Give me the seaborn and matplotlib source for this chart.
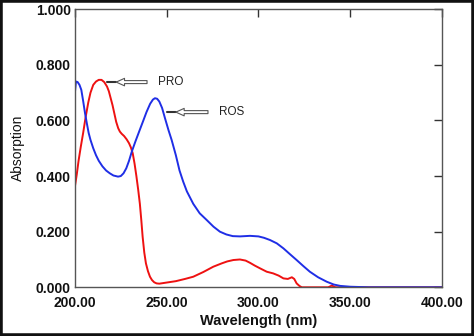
import matplotlib
matplotlib.use("Agg")
import matplotlib.pyplot as plt
import seaborn as sns
import pandas as pd
from matplotlib.patches import Rectangle

# UV absorption spectra, wavelength in nm
ros_wavelength = [200, 200.6, 201.5, 202.5, 203.5, 204.5, 205.5, 206.5, 207.5, 208.5, 210, 211.5,
                  213, 215, 217, 219, 221, 223.5, 225, 226.5, 228, 229.5, 231, 233, 235, 237.3,
                  239, 241, 242.5, 243.6, 244.8, 246, 247.5, 249, 251, 252.7, 255, 257, 259,
                  261, 264.5, 268, 271.8, 275.5, 279, 282.5, 286, 290, 295.4, 300, 303,
                  306.3, 310, 313.6, 317, 320.8, 324.5, 328, 332.5, 337.2, 341, 344.5, 350,
                  360, 380, 400]
ros_absorption = [0.700, 0.740, 0.738, 0.728, 0.710, 0.670, 0.627, 0.590, 0.555, 0.530, 0.500,
                  0.475, 0.455, 0.435, 0.420, 0.410, 0.402, 0.398, 0.400, 0.410, 0.428, 0.455,
                  0.488, 0.525, 0.560, 0.600, 0.630, 0.660, 0.675, 0.680, 0.678, 0.668, 0.645,
                  0.610, 0.565, 0.530, 0.475, 0.420, 0.380, 0.345, 0.300, 0.266, 0.242, 0.218,
                  0.200, 0.190, 0.184, 0.183, 0.185, 0.183, 0.178, 0.170, 0.158, 0.140, 0.120,
                  0.098, 0.076, 0.056, 0.036, 0.020, 0.010, 0.005, 0.002, 0.000, 0.000, 0.000]

pro_wavelength = [200, 201, 202, 203.2, 204.5, 205.8, 207.3, 208.5, 210, 211.5, 213, 214.5,
                  216, 217.5, 218.5, 219.5, 220.5, 221.5, 222.5, 223.6, 224.5, 225.5, 226.8,
                  228.2, 229.5, 230.5, 231.5, 232.5, 233.5, 234.5, 235.4, 236.2, 236.9, 237.8,
                  238.7, 239.8, 240.9, 242, 243.2, 244.5, 246, 248, 250, 255, 260, 264.5, 270,
                  275.4, 280, 283, 286.3, 289.9, 293, 295.4, 298, 300.9, 304.5, 308, 311,
                  313.6, 316, 318.2, 319.5, 320.8, 322.3, 323.6, 330, 338, 340, 342, 350, 400]
pro_absorption = [0.362, 0.405, 0.455, 0.505, 0.555, 0.610, 0.665, 0.700, 0.728, 0.740, 0.746,
                  0.746, 0.738, 0.722, 0.705, 0.680, 0.655, 0.625, 0.595, 0.572, 0.560, 0.552,
                  0.544, 0.532, 0.518, 0.503, 0.482, 0.445, 0.400, 0.350, 0.300, 0.240, 0.182,
                  0.125, 0.086, 0.058, 0.038, 0.026, 0.018, 0.014, 0.013, 0.015, 0.017, 0.022,
                  0.030, 0.038, 0.055, 0.074, 0.086, 0.093, 0.098, 0.100, 0.096, 0.088, 0.078,
                  0.068, 0.056, 0.050, 0.042, 0.032, 0.030, 0.036, 0.030, 0.014, 0.005, 0.000,
                  0.000, 0.000, 0.006, 0.000, 0.000, 0.000]

x_ticks = [200, 250, 300, 350, 400]
x_tick_labels = ["200.00", "250.00", "300.00", "350.00", "400.00"]
y_ticks = [0.0, 0.2, 0.4, 0.6, 0.8, 1.0]
y_tick_labels = ["0.000", "0.200", "0.400", "0.600", "0.800", "1.000"]

sns.set_theme(style="white")
plt.rcParams["font.family"] = ["Liberation Sans", "DejaVu Sans"]

fig = plt.figure(figsize=(4.74, 3.36), dpi=100)
ax = fig.add_axes([0.158, 0.145, 0.7745, 0.8275])

ros = pd.DataFrame({"wavelength": ros_wavelength, "absorption": ros_absorption})
pro = pd.DataFrame({"wavelength": pro_wavelength, "absorption": pro_absorption})

sns.lineplot(data=pro, x="wavelength", y="absorption", ax=ax, color="#ee1111",
             linewidth=1.4, sort=False)
sns.lineplot(data=ros, x="wavelength", y="absorption", ax=ax, color="#1f2ee6",
             linewidth=1.4, sort=False)

ax.set_xlim(200, 400)
ax.set_ylim(0, 1.0)
ax.set_xticks(x_ticks)
ax.set_xticklabels(x_tick_labels, fontweight="bold", fontsize=10, color="#111111")
ax.set_yticks(y_ticks)
ax.set_yticklabels(y_tick_labels, fontweight="bold", fontsize=10, color="#111111")
ax.tick_params(axis="both", direction="in", length=6, width=1.0, color="#333333",
               top=True, right=True, labeltop=False, labelright=False)
ax.tick_params(axis="x", pad=6)
ax.tick_params(axis="y", pad=3)

for spine in ax.spines.values():
    spine.set_color("#555555")
    spine.set_linewidth(1.0)

ax.set_xlabel("Wavelength (nm)", fontweight="bold", fontsize=10.5, color="#111111", labelpad=3)
ax.set_ylabel("Absorption", fontsize=10, color="#111111", labelpad=8)

# Labelled arrows pointing at each band
arrow_style = dict(arrowstyle="simple,head_length=0.5,head_width=0.45,tail_width=0.18",
                   fc="white", ec="#555555", lw=0.8, shrinkA=0, shrinkB=0)
ax.annotate("", xy=(222.5, 0.738), xytext=(239.3, 0.738), arrowprops=arrow_style)
ax.plot([217.5, 222.5], [0.738, 0.738], color="#333333", lw=1.5)
ax.text(245.3, 0.738, "PRO", fontsize=8.5, va="center", ha="left", color="#222222")

ax.annotate("", xy=(255.0, 0.630), xytext=(272.5, 0.630), arrowprops=arrow_style)
ax.plot([250.0, 255.0], [0.630, 0.630], color="#333333", lw=1.5)
ax.text(278.5, 0.630, "ROS", fontsize=8.5, va="center", ha="left", color="#222222")

# Outer frame round the figure
fig.patches.append(Rectangle((0, 0), 1, 1, transform=fig.transFigure, fill=False,
                             edgecolor="#111111", linewidth=4.0, zorder=10))

fig.savefig("out.png", dpi=100)
